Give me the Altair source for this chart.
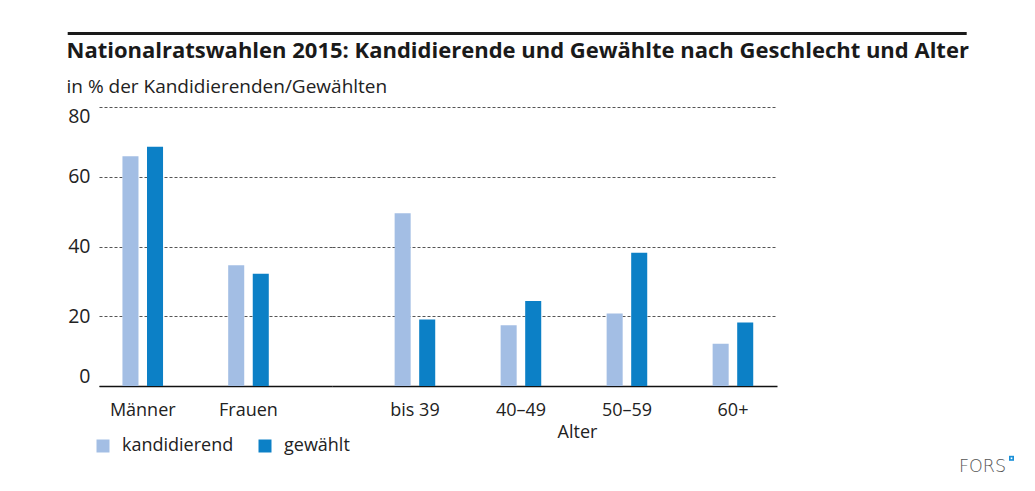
import altair as alt
import pandas as pd

# ---- data ----
gender_cats = ["Männer", "Frauen"]
age_cats = ["bis 39", "40–49", "50–59", "60+"]
series = ["kandidierend", "gewählt"]
gender_kand = [65.9, 34.6]
gender_gew = [68.6, 32.2]
age_kand = [49.5, 17.4, 20.8, 12.1]
age_gew = [19.1, 24.4, 38.2, 18.2]

title_text = "Nationalratswahlen 2015: Kandidierende und Gewählte nach Geschlecht und Alter"
y_title = "in % der Kandidierenden/Gewählten"
x_title_age = "Alter"
logo_text = "FORS"

colors = ["#a3bee4", "#0c80c6"]
FONT = "Open Sans"
TXT = "#222222"


def frame(cats, kand, gew):
    rows = []
    for c, k, g in zip(cats, kand, gew):
        rows.append({"cat": c, "serie": series[0], "wert": k})
        rows.append({"cat": c, "serie": series[1], "wert": g})
    return pd.DataFrame(rows)


color_enc = alt.Color(
    "serie:N",
    scale=alt.Scale(domain=series, range=colors),
    legend=alt.Legend(
        title=None, orient="none", legendX=-5, legendY=330, direction="horizontal",
        symbolType="square", symbolSize=169, symbolStrokeWidth=0,
        labelFontSize=18, labelFont=FONT, labelColor=TXT,
        columnPadding=22, labelOffset=10, padding=0,
    ),
)
xoff = alt.XOffset("serie:N", sort=series,
                   scale=alt.Scale(domain=series, paddingInner=0.347, paddingOuter=0.25))

grid_kw = dict(grid=True, gridColor="#555555", gridDash=[3, 2], gridWidth=1)

y_left = alt.Y(
    "wert:Q",
    scale=alt.Scale(domain=[0, 80], nice=False),
    axis=alt.Axis(
        values=[0, 20, 40, 60, 80], title=y_title, titleAngle=0, titleAlign="left",
        titleBaseline="alphabetic", titleX=-33, titleY=-15, titleFontSize=19,
        titleFontWeight="normal", titleFont=FONT, titleColor=TXT,
        labelFontSize=19.5, labelFont=FONT, labelColor=TXT, labelPadding=9,
        ticks=False, domain=False, labelFlush=True, **grid_kw,
    ),
)
y_right = alt.Y(
    "wert:Q",
    scale=alt.Scale(domain=[0, 80], nice=False),
    axis=alt.Axis(values=[0, 20, 40, 60, 80], title=None, labels=False, ticks=False,
                  domain=False, **grid_kw),
)

x_axis_common = dict(labelAngle=0, ticks=False, labelPadding=15, labelFontSize=18,
                     labelFont=FONT, labelColor=TXT, domainColor="#111111", domainWidth=1.5)

x_left = alt.X(
    "cat:N", sort=gender_cats,
    scale=alt.Scale(domain=gender_cats, paddingInner=0.5, paddingOuter=0.3517, align=0.2327),
    axis=alt.Axis(title=None, **x_axis_common),
)
x_right = alt.X(
    "cat:N", sort=age_cats,
    scale=alt.Scale(domain=age_cats, paddingInner=0.5, paddingOuter=0.349, align=0.7635),
    axis=alt.Axis(title=x_title_age, titleX=245, titleY=51, titleBaseline="alphabetic",
                  titleFontSize=18, titleFontWeight="normal", titleFont=FONT,
                  titleColor=TXT, **x_axis_common),
)

bars_left = alt.Chart(frame(gender_cats, gender_kand, gender_gew)).mark_bar().encode(
    x=x_left, xOffset=xoff, y=y_left, color=color_enc)
bars_right = alt.Chart(frame(age_cats, age_kand, age_gew)).mark_bar().encode(
    x=x_right, xOffset=xoff, y=y_right, color=color_enc)

top_rule = alt.Chart(pd.DataFrame({"t": [0]})).mark_rule(color="#1a1a1a", strokeWidth=3).encode(
    x=alt.value(-31.3), x2=alt.value(867.7), y=alt.value(-73.5))
title_mark = alt.Chart(pd.DataFrame({"t": [title_text]})).mark_text(
    align="left", baseline="alphabetic", font=FONT, fontSize=22, fontWeight="bold",
    color="#1a1a1a").encode(x=alt.value(-32.5), y=alt.value(-49.3), text="t:N")

logo = alt.Chart(pd.DataFrame({"t": [logo_text]})).mark_text(
    align="right", baseline="alphabetic", font="DejaVu Sans", fontSize=17.5, fontWeight=300,
    color="#555555").encode(x=alt.value(674), y=alt.value(364.7), text="t:N")
logo_sq = alt.Chart(pd.DataFrame({"t": [0]})).mark_square(size=25, color="#1a90d8", opacity=1).encode(
    x=alt.value(679.5), y=alt.value(351.3))
logo_dot = alt.Chart(pd.DataFrame({"t": [0]})).mark_square(size=3, color="white", opacity=1).encode(
    x=alt.value(679.5), y=alt.value(351.3))

left = alt.layer(bars_left, top_rule, title_mark).properties(width=233, height=279)
right = alt.layer(bars_right, logo, logo_sq, logo_dot).properties(width=445, height=279)

chart = (
    alt.hconcat(left, right, spacing=0, bounds="flush")
    .properties(padding={"left": 58, "top": 24, "right": 5, "bottom": 5})
    .configure(background="white", view=alt.ViewConfig(stroke=None))
)

chart.save("out.html", embed_options={"renderer": "svg", "actions": False})
